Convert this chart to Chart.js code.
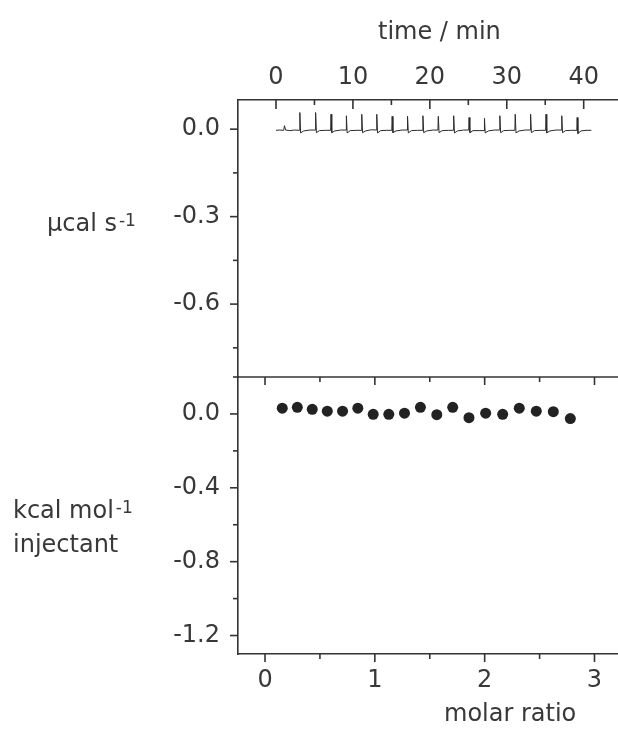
<!doctype html>
<html>
<head>
<meta charset="utf-8">
<title>ITC titration</title>
<script src="https://cdn.jsdelivr.net/npm/chart.js"></script>
<style>
  body { margin: 0; background: #fff; }
  .wrap { position: relative; width: 618px; height: 729px; overflow: hidden; }
  canvas { position: absolute; left: 0; }
  .lbl {
    position: absolute;
    font-family: "DejaVu Sans", sans-serif;
    font-size: 24px;
    line-height: 34px;
    color: #383838;
    white-space: nowrap;
  }
  .lbl sup { font-size: 17px; vertical-align: 5px; line-height: 0; margin-left: 2px; }
</style>
</head>
<body>
<div class="wrap">
  <canvas id="thermo" width="618" height="390" style="top:0"></canvas>
  <canvas id="binding" width="618" height="359" style="top:370px"></canvas>

  <div class="lbl" style="left:378px; top:14px">time / min</div>
  <div class="lbl" style="left:444px; top:696px">molar ratio</div>
  <div class="lbl" style="left:47px; top:206px">µcal s<sup>-1</sup></div>
  <div class="lbl" style="left:13px; top:493px">kcal mol<sup>-1</sup><br>injectant</div>
</div>

<script>
// raw thermogram (min, µcal/s)
const traceTime = [
  0, 0.5, 1.0, 1.1, 1.25, 1.8, 2.4,
  3.05, 3.1, 3.2, 3.6, 4.4,
  5.1, 5.15, 5.25, 5.65, 6.4,
  7.1, 7.15, 7.25, 7.65, 8.4,
  9.1, 9.15, 9.25, 9.65, 10.4,
  11.1, 11.15, 11.25, 11.65, 12.4,
  13.05, 13.1, 13.2, 13.6, 14.4,
  15.05, 15.1, 15.2, 15.6, 16.4,
  17.05, 17.1, 17.2, 17.6, 18.4,
  19.05, 19.1, 19.2, 19.6, 20.4,
  21.05, 21.1, 21.2, 21.6, 22.4,
  23.05, 23.1, 23.2, 23.6, 24.4,
  25.05, 25.1, 25.2, 25.6, 26.4,
  27.05, 27.1, 27.2, 27.6, 28.4,
  29.05, 29.1, 29.2, 29.6, 30.4,
  31.05, 31.1, 31.2, 31.6, 32.4,
  33.05, 33.1, 33.2, 33.6, 34.4,
  35.05, 35.1, 35.2, 35.6, 36.4,
  37.1, 37.15, 37.25, 37.65, 38.4,
  39.1, 39.15, 39.25, 39.65, 40.3, 41.0
];
const traceSignal = [
  -0.004, -0.003, -0.004, 0.012, -0.003, -0.005, -0.003,
  -0.004, 0.057, -0.013, -0.006, -0.003,
  -0.003, 0.057, -0.012, -0.005, -0.004,
  -0.004, 0.051, -0.012, -0.006, -0.003,
  -0.003, 0.046, -0.013, -0.005, -0.004,
  -0.004, 0.051, -0.012, -0.006, -0.002,
  -0.003, 0.051, -0.013, -0.005, -0.004,
  -0.004, 0.044, -0.012, -0.006, -0.003,
  -0.003, 0.044, -0.013, -0.005, -0.004,
  -0.004, 0.046, -0.012, -0.006, -0.003,
  -0.003, 0.044, -0.012, -0.005, -0.004,
  -0.004, 0.046, -0.013, -0.006, -0.003,
  -0.003, 0.040, -0.012, -0.005, -0.005,
  -0.005, 0.037, -0.013, -0.006, -0.003,
  -0.003, 0.046, -0.012, -0.005, -0.004,
  -0.004, 0.051, -0.013, -0.006, -0.003,
  -0.003, 0.051, -0.012, -0.005, -0.004,
  -0.004, 0.051, -0.013, -0.006, -0.003,
  -0.003, 0.046, -0.012, -0.005, -0.004,
  -0.004, 0.040, -0.015, -0.006, -0.004, -0.004
];

// integrated heats, lower panel
const molarRatio = [0.157, 0.294, 0.43, 0.567, 0.706, 0.845, 0.985, 1.127, 1.27, 1.415,
                    1.564, 1.709, 1.857, 2.009, 2.164, 2.315, 2.47, 2.625, 2.78];
const heat = [0.031, 0.036, 0.025, 0.015, 0.015, 0.031, -0.002, -0.002, 0.004, 0.036,
              -0.004, 0.036, -0.020, 0.004, -0.002, 0.031, 0.015, 0.012, -0.025];

// ticks
const timeTicks = [0, 10, 20, 30, 40];
const timeMinor = [5, 15, 25, 35];
const powerTicks = [0, -0.3, -0.6];
const powerMinor = [-0.15, -0.45, -0.75];
const ratioTicks = [0, 1, 2, 3];
const ratioMinor = [0.5, 1.5, 2.5];
const heatTicks = [0, -0.4, -0.8, -1.2];
const heatMinor = [0.2, -0.2, -0.6, -1.0];

const ink = '#333';
const textInk = '#383838';
const tickFont = { family: 'DejaVu Sans', size: 24 };

// Chart.js has no minor ticks or inward ticks, so draw them here
const tickMarks = {
  id: 'tickMarks',
  afterDraw(chart, args, opts) {
    const ctx = chart.ctx, a = chart.chartArea;
    ctx.save();
    ctx.strokeStyle = ink;
    ctx.lineWidth = 1.6;
    (opts.marks || []).forEach(m => {
      const scale = chart.scales[m.scale];
      m.values.forEach(v => {
        const p = scale.getPixelForValue(v);
        ctx.beginPath();
        if (m.edge === 'left') {
          ctx.moveTo(a.left, p); ctx.lineTo(a.left - m.len, p);
        } else if (m.edge === 'top') {
          ctx.moveTo(p, a.top); ctx.lineTo(p, a.top + m.len);
        } else {
          ctx.moveTo(p, a.bottom); ctx.lineTo(p, a.bottom + m.len);
        }
        ctx.stroke();
      });
    });
    if (opts.topLine) {
      ctx.beginPath();
      ctx.moveTo(a.left, a.top);
      ctx.lineTo(a.right, a.top);
      ctx.stroke();
    }
    ctx.restore();
  }
};

function axisBorder() {
  return { display: true, color: ink, width: 1.6 };
}

// fixed axis boxes so both panels line up; drop the label overhang padding
function fixHeight(h) {
  return s => { s.height = h; s.paddingLeft = 0; s.paddingRight = 0; };
}
function fixWidth(w) {
  return s => { s.width = w; s.paddingTop = 0; s.paddingBottom = 0; };
}

new Chart(document.getElementById('thermo'), {
  type: 'line',
  data: {
    datasets: [{
      data: traceTime.map((t, i) => ({ x: t, y: traceSignal[i] })),
      borderColor: '#2a2a2a',
      borderWidth: 1,
      pointRadius: 0,
      tension: 0
    }]
  },
  options: {
    responsive: false,
    animation: false,
    devicePixelRatio: 1,
    layout: { autoPadding: false, padding: { left: 0, right: 0, top: 0, bottom: 13 } },
    plugins: {
      legend: { display: false },
      tooltip: { enabled: false },
      tickMarks: {
        marks: [
          { scale: 'x', edge: 'top', values: timeTicks, len: 9 },
          { scale: 'x', edge: 'top', values: timeMinor, len: 5 },
          { scale: 'y', edge: 'left', values: powerTicks, len: 8 },
          { scale: 'y', edge: 'left', values: powerMinor, len: 5 }
        ]
      }
    },
    scales: {
      x: {
        type: 'linear',
        position: 'top',
        min: -4.94,
        max: 44.46,
        afterFit: fixHeight(100),
        afterBuildTicks: s => { s.ticks = timeTicks.map(v => ({ value: v })); },
        grid: { display: false, drawTicks: false },
        border: axisBorder(),
        ticks: { padding: 8, color: textInk, font: tickFont, maxRotation: 0, callback: v => String(v) }
      },
      y: {
        type: 'linear',
        min: -0.85,
        max: 0.1,
        afterFit: fixWidth(238),
        afterBuildTicks: s => { s.ticks = powerTicks.map(v => ({ value: v })); },
        grid: { display: false, drawTicks: false },
        border: axisBorder(),
        ticks: { padding: 18, color: textInk, font: tickFont, callback: v => v.toFixed(1) }
      }
    }
  },
  plugins: [tickMarks]
});

new Chart(document.getElementById('binding'), {
  type: 'scatter',
  data: {
    datasets: [{
      data: molarRatio.map((r, i) => ({ x: r, y: heat[i] })),
      backgroundColor: '#222',
      borderWidth: 0,
      pointRadius: 5.5
    }]
  },
  options: {
    responsive: false,
    animation: false,
    devicePixelRatio: 1,
    layout: { autoPadding: false, padding: { left: 0, right: 0, top: 7, bottom: 0 } },
    plugins: {
      legend: { display: false },
      tooltip: { enabled: false },
      tickMarks: {
        topLine: true,
        marks: [
          { scale: 'x', edge: 'bottom', values: ratioTicks, len: 8 },
          { scale: 'x', edge: 'bottom', values: ratioMinor, len: 5 },
          { scale: 'x', edge: 'top', values: ratioTicks, len: 8 },
          { scale: 'x', edge: 'top', values: ratioMinor, len: 5 },
          { scale: 'y', edge: 'left', values: heatTicks, len: 8 },
          { scale: 'y', edge: 'left', values: heatMinor, len: 5 }
        ]
      }
    },
    scales: {
      x: {
        type: 'linear',
        position: 'bottom',
        min: -0.246,
        max: 3.214,
        afterFit: fixHeight(75),
        afterBuildTicks: s => { s.ticks = ratioTicks.map(v => ({ value: v })); },
        grid: { display: false, drawTicks: false },
        border: axisBorder(),
        ticks: { padding: 12, color: textInk, font: tickFont, maxRotation: 0, callback: v => String(v) }
      },
      y: {
        type: 'linear',
        min: -1.3,
        max: 0.2,
        afterFit: fixWidth(238),
        afterBuildTicks: s => { s.ticks = heatTicks.map(v => ({ value: v })); },
        grid: { display: false, drawTicks: false },
        border: axisBorder(),
        ticks: { padding: 18, color: textInk, font: tickFont, callback: v => v.toFixed(1) }
      }
    }
  },
  plugins: [tickMarks]
});
</script>
</body>
</html>
